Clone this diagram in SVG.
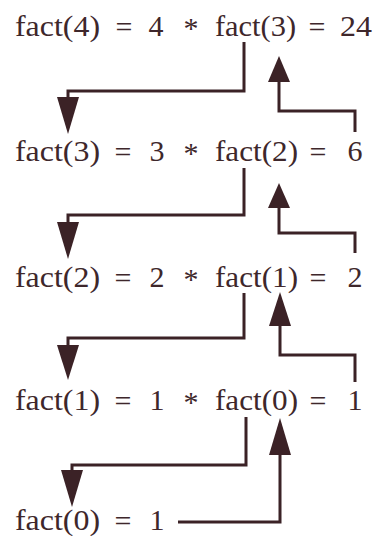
<svg xmlns="http://www.w3.org/2000/svg" width="383" height="536" viewBox="0 0 383 536">
<style>
text{font-family:"Liberation Serif","Times New Roman",serif;font-size:30px;fill:#3e272b}
.m{text-anchor:middle}
.ln{fill:none;stroke:#3b2226;stroke-width:3;stroke-linejoin:miter}
.hd{fill:#3b2226;stroke:none}
</style>
<rect width="383" height="536" fill="#ffffff"/>
<g id="row1">
<text x="15" y="36" textLength="85" lengthAdjust="spacingAndGlyphs">fact(4)</text>
<text class="m" x="124" y="37">=</text>
<text class="m" x="156" y="36">4</text>
<text class="m" x="191" y="38">*</text>
<text x="215" y="36" textLength="81" lengthAdjust="spacingAndGlyphs">fact(3)</text>
<text class="m" x="317" y="37">=</text>
<text x="340" y="36" textLength="32" lengthAdjust="spacingAndGlyphs">24</text>
</g>
<g id="row2">
<text x="15" y="161" textLength="85" lengthAdjust="spacingAndGlyphs">fact(3)</text>
<text class="m" x="123" y="162">=</text>
<text class="m" x="157" y="161">3</text>
<text class="m" x="191" y="163">*</text>
<text x="215" y="161" textLength="83" lengthAdjust="spacingAndGlyphs">fact(2)</text>
<text class="m" x="318" y="162">=</text>
<text class="m" x="355" y="161">6</text>
</g>
<g id="row3">
<text x="15" y="287" textLength="85" lengthAdjust="spacingAndGlyphs">fact(2)</text>
<text class="m" x="123" y="288">=</text>
<text class="m" x="157" y="287">2</text>
<text class="m" x="191" y="289">*</text>
<text x="215" y="287" textLength="83" lengthAdjust="spacingAndGlyphs">fact(1)</text>
<text class="m" x="318" y="288">=</text>
<text class="m" x="355" y="287">2</text>
</g>
<g id="row4">
<text x="15" y="410" textLength="85" lengthAdjust="spacingAndGlyphs">fact(1)</text>
<text class="m" x="123" y="411">=</text>
<text class="m" x="157" y="410">1</text>
<text class="m" x="191" y="412">*</text>
<text x="215" y="410" textLength="83" lengthAdjust="spacingAndGlyphs">fact(0)</text>
<text class="m" x="318" y="411">=</text>
<text class="m" x="355" y="410">1</text>
</g>
<g id="row5">
<text x="15" y="530" textLength="85" lengthAdjust="spacingAndGlyphs">fact(0)</text>
<text class="m" x="123" y="531">=</text>
<text class="m" x="157" y="530">1</text>
</g>
<g id="connectors">
<path class="ln" d="M244,42 V91 H68 V100"/>
<polygon class="hd" points="57,97 79,97 68,134"/>
<polygon class="hd" points="279,56 268,82 290,82"/>
<path class="ln" d="M279,82 V111 H355 V132"/>
<path class="ln" d="M244,168 V215 H68 V224"/>
<polygon class="hd" points="57,222 79,222 68,259"/>
<polygon class="hd" points="279,183 268,208 290,208"/>
<path class="ln" d="M279,208 V233 H355 V253"/>
<path class="ln" d="M244,293 V338 H68 V348"/>
<polygon class="hd" points="57,345 79,345 68,380"/>
<polygon class="hd" points="280,292 269,326 291,326"/>
<path class="ln" d="M280,326 V355 H355 V382"/>
<path class="ln" d="M246,417 V465 H72 V473"/>
<polygon class="hd" points="61,470 83,470 72,507"/>
<polygon class="hd" points="280,418 269,455 291,455"/>
<path class="ln" d="M280,455 V522 H178"/>
</g>
</svg>
